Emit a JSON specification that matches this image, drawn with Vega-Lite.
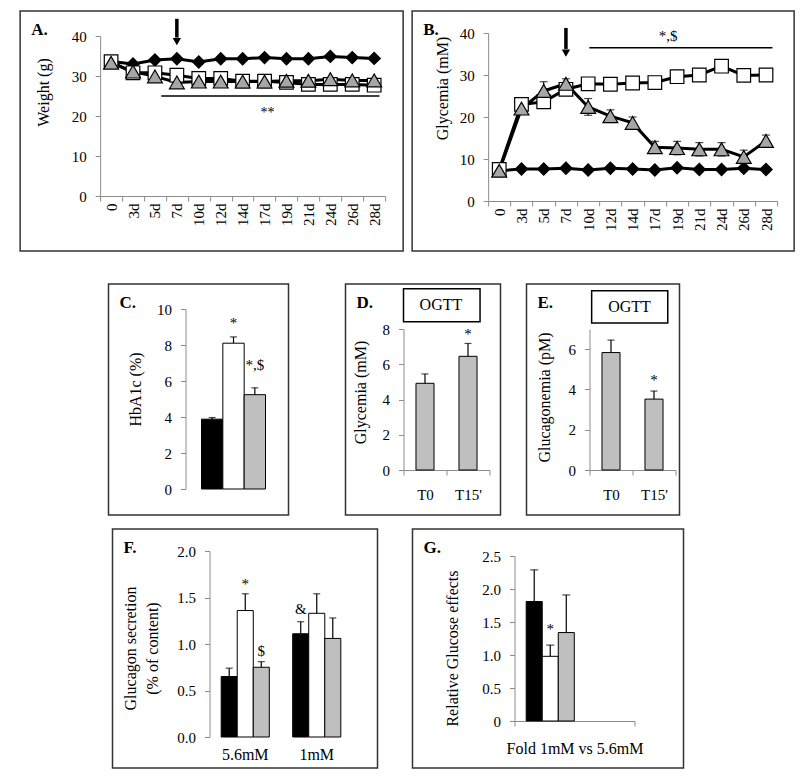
{
  "$schema": "https://vega.github.io/schema/vega-lite/v6.json",
  "background": "white",
  "padding": {"left": 12, "top": 10, "right": 12, "bottom": 11},
  "config": {
    "view": {"stroke": "#333333", "strokeWidth": 1.5},
    "font": "Liberation Serif",
    "axis": {"labelFont": "Liberation Serif", "titleFont": "Liberation Serif", "labelFontSize": 15, "titleFontSize": 16, "titleFontWeight": "normal", "labelColor": "black", "titleColor": "black", "domainColor": "#8c8c8c", "tickColor": "#8c8c8c", "grid": false, "tickSize": 5, "labelPadding": 9, "labelOverlap": false},
    "title": {"anchor": "start", "frame": "group", "offset": -28, "dx": 11, "baseline": "alphabetic", "font": "Liberation Serif", "fontSize": 17, "fontWeight": "bold", "color": "black"}
  },
  "datasets": {
    "weight": [
      {"day": "0", "series": "Control", "value": 33.6}, {"day": "3d", "series": "Control", "value": 33.0}, {"day": "5d", "series": "Control", "value": 34.0}, {"day": "7d", "series": "Control", "value": 34.3}, {"day": "10d", "series": "Control", "value": 33.5}, {"day": "12d", "series": "Control", "value": 34.3}, {"day": "14d", "series": "Control", "value": 34.3}, {"day": "17d", "series": "Control", "value": 34.6}, {"day": "19d", "series": "Control", "value": 34.3}, {"day": "21d", "series": "Control", "value": 34.3}, {"day": "24d", "series": "Control", "value": 34.9}, {"day": "26d", "series": "Control", "value": 34.6}, {"day": "28d", "series": "Control", "value": 34.4},
      {"day": "0", "series": "Diabetic", "value": 33.6}, {"day": "3d", "series": "Diabetic", "value": 30.8}, {"day": "5d", "series": "Diabetic", "value": 30.8}, {"day": "7d", "series": "Diabetic", "value": 30.2}, {"day": "10d", "series": "Diabetic", "value": 29.4}, {"day": "12d", "series": "Diabetic", "value": 29.4}, {"day": "14d", "series": "Diabetic", "value": 28.7}, {"day": "17d", "series": "Diabetic", "value": 28.7}, {"day": "19d", "series": "Diabetic", "value": 28.4}, {"day": "21d", "series": "Diabetic", "value": 27.9}, {"day": "24d", "series": "Diabetic", "value": 27.9}, {"day": "26d", "series": "Diabetic", "value": 27.9}, {"day": "28d", "series": "Diabetic", "value": 27.7},
      {"day": "0", "series": "Treated", "value": 33.3}, {"day": "3d", "series": "Treated", "value": 31.1}, {"day": "5d", "series": "Treated", "value": 29.9}, {"day": "7d", "series": "Treated", "value": 28.4}, {"day": "10d", "series": "Treated", "value": 28.6}, {"day": "12d", "series": "Treated", "value": 28.6}, {"day": "14d", "series": "Treated", "value": 28.6}, {"day": "17d", "series": "Treated", "value": 28.6}, {"day": "19d", "series": "Treated", "value": 28.8}, {"day": "21d", "series": "Treated", "value": 28.8}, {"day": "24d", "series": "Treated", "value": 29.2}, {"day": "26d", "series": "Treated", "value": 28.9}, {"day": "28d", "series": "Treated", "value": 28.9}
    ],
    "glyc": [
      {"day": "0", "series": "Control", "value": 7.2}, {"day": "3d", "series": "Control", "value": 7.6}, {"day": "5d", "series": "Control", "value": 7.6}, {"day": "7d", "series": "Control", "value": 7.8}, {"day": "10d", "series": "Control", "value": 7.4}, {"day": "12d", "series": "Control", "value": 7.8}, {"day": "14d", "series": "Control", "value": 7.6}, {"day": "17d", "series": "Control", "value": 7.4}, {"day": "19d", "series": "Control", "value": 7.9}, {"day": "21d", "series": "Control", "value": 7.5}, {"day": "24d", "series": "Control", "value": 7.5}, {"day": "26d", "series": "Control", "value": 7.8}, {"day": "28d", "series": "Control", "value": 7.5},
      {"day": "0", "series": "Diabetic", "value": 7.5}, {"day": "3d", "series": "Diabetic", "value": 23.0}, {"day": "5d", "series": "Diabetic", "value": 23.6}, {"day": "7d", "series": "Diabetic", "value": 26.6}, {"day": "10d", "series": "Diabetic", "value": 27.9}, {"day": "12d", "series": "Diabetic", "value": 27.8}, {"day": "14d", "series": "Diabetic", "value": 28.1}, {"day": "17d", "series": "Diabetic", "value": 28.2}, {"day": "19d", "series": "Diabetic", "value": 29.6}, {"day": "21d", "series": "Diabetic", "value": 30.0}, {"day": "24d", "series": "Diabetic", "value": 32.1}, {"day": "26d", "series": "Diabetic", "value": 29.9}, {"day": "28d", "series": "Diabetic", "value": 30.0},
      {"day": "0", "series": "Treated", "value": 7.2, "lo": 6.9, "hi": 7.5}, {"day": "3d", "series": "Treated", "value": 22.0, "lo": 20.7, "hi": 23.3}, {"day": "5d", "series": "Treated", "value": 26.2, "lo": 24.0, "hi": 28.4}, {"day": "7d", "series": "Treated", "value": 27.9, "lo": 26.7, "hi": 29.1}, {"day": "10d", "series": "Treated", "value": 22.4, "lo": 20.4, "hi": 24.4}, {"day": "12d", "series": "Treated", "value": 20.2, "lo": 18.7, "hi": 21.7}, {"day": "14d", "series": "Treated", "value": 18.6, "lo": 17.2, "hi": 20.0}, {"day": "17d", "series": "Treated", "value": 12.8, "lo": 11.4, "hi": 14.2}, {"day": "19d", "series": "Treated", "value": 12.6, "lo": 11.0, "hi": 14.2}, {"day": "21d", "series": "Treated", "value": 12.3, "lo": 10.7, "hi": 13.9}, {"day": "24d", "series": "Treated", "value": 12.3, "lo": 10.7, "hi": 13.9}, {"day": "26d", "series": "Treated", "value": 10.5, "lo": 8.9, "hi": 12.1}, {"day": "28d", "series": "Treated", "value": 14.3, "lo": 12.9, "hi": 15.7}
    ],
    "hba1c": [
      {"group": "Control", "value": 3.88, "hi": 3.97}, {"group": "Diabetic", "value": 8.1, "hi": 8.45}, {"group": "Treated", "value": 5.24, "hi": 5.62}
    ],
    "ogttGly": [
      {"time": "T0", "value": 4.92, "hi": 5.45}, {"time": "T15'", "value": 6.45, "hi": 7.18}
    ],
    "ogttGlu": [
      {"time": "T0", "value": 5.83, "hi": 6.45}, {"time": "T15'", "value": 3.52, "hi": 3.92}
    ],
    "secretion": [
      {"cond": "5.6mM", "group": "Control", "value": 0.65, "hi": 0.74}, {"cond": "5.6mM", "group": "Diabetic", "value": 1.36, "hi": 1.54}, {"cond": "5.6mM", "group": "Treated", "value": 0.75, "hi": 0.81},
      {"cond": "1mM", "group": "Control", "value": 1.11, "hi": 1.24}, {"cond": "1mM", "group": "Diabetic", "value": 1.33, "hi": 1.54}, {"cond": "1mM", "group": "Treated", "value": 1.06, "hi": 1.28}
    ],
    "fold": [
      {"cond": "Fold 1mM vs 5.6mM", "group": "Control", "value": 1.81, "hi": 2.29}, {"cond": "Fold 1mM vs 5.6mM", "group": "Diabetic", "value": 0.98, "hi": 1.15}, {"cond": "Fold 1mM vs 5.6mM", "group": "Treated", "value": 1.34, "hi": 1.91}
    ]
  },
  "vconcat": [
    {
      "hconcat": [
        {
          "width": 383, "height": 240,
          "title": {"text": "A."},
          "layer": [
            {"data": {"name": "weight"}, "mark": {"type": "line", "color": "black", "strokeWidth": 3},
             "encoding": {
               "x": {"field": "day", "type": "ordinal", "bandPosition": 0.5, "sort": ["0","3d","5d","7d","10d","12d","14d","17d","19d","21d","24d","26d","28d"],
                     "scale": {"type": "band", "domain": ["0","3d","5d","7d","10d","12d","14d","17d","19d","21d","24d","26d","28d"], "range": [80, 365], "paddingInner": 0, "paddingOuter": 0},
                     "axis": {"orient": "bottom", "offset": -55, "tickBand": "extent", "labelAngle": 270, "labelPadding": 2, "labelOverlap": false, "title": null}},
               "y": {"field": "value", "type": "quantitative", "scale": {"domain": [0, 40], "range": [185, 25], "nice": false, "zero": false},
                     "axis": {"offset": -80, "values": [0,5,10,15,20,25,30,35,40], "labelOverlap": false, "title": "Weight (g)", "titleX": -49, "titleY": 81}},
               "detail": {"field": "series", "type": "nominal"}}},
            {"data": {"name": "weight"}, "mark": {"type": "point", "filled": true, "stroke": "black", "strokeWidth": 1.2, "opacity": 1},
             "encoding": {
               "x": {"field": "day", "type": "ordinal", "bandPosition": 0.5},
               "y": {"field": "value", "type": "quantitative"},
               "shape": {"field": "series", "type": "nominal", "scale": {"domain": ["Control","Diabetic","Treated"], "range": ["diamond","square","triangle-up"]}, "legend": null},
               "fill": {"field": "series", "type": "nominal", "scale": {"domain": ["Control","Diabetic","Treated"], "range": ["black","white","#a6a6a6"]}, "legend": null},
               "size": {"field": "series", "type": "nominal", "scale": {"domain": ["Control","Diabetic","Treated"], "range": [150, 220, 220]}, "legend": null}}},
            {"data": {"values": [{"day": "7d", "top": 44.3, "bottom": 39.6}]}, "mark": {"type": "rule", "color": "black", "strokeWidth": 3.5},
             "encoding": {"x": {"field": "day", "type": "ordinal", "bandPosition": 0.5}, "y": {"field": "top", "type": "quantitative"}, "y2": {"field": "bottom"}}},
            {"data": {"values": [{"day": "7d", "tip": 38.6}]}, "mark": {"type": "point", "shape": "triangle-down", "filled": true, "color": "black", "size": 70, "opacity": 1},
             "encoding": {"x": {"field": "day", "type": "ordinal", "bandPosition": 0.5}, "y": {"field": "tip", "type": "quantitative"}}},
            {"data": {"values": [{"from": "5d", "to": "28d", "level": 25}]}, "mark": {"type": "rule", "color": "black", "strokeWidth": 1.5},
             "encoding": {"x": {"field": "from", "type": "ordinal", "bandPosition": 0.79}, "x2": {"field": "to", "bandPosition": 0.74}, "y": {"field": "level", "type": "quantitative"}}},
            {"data": {"values": [{"day": "17d", "level": 20.8, "label": "**"}]}, "mark": {"type": "text", "fontSize": 14, "baseline": "middle", "color": "black", "font": "Liberation Serif"},
             "encoding": {"x": {"field": "day", "type": "ordinal", "bandPosition": 0.63}, "y": {"field": "level", "type": "quantitative"}, "text": {"field": "label"}}}
          ]
        },
        {
          "width": 382, "height": 240,
          "title": {"text": "B."},
          "layer": [
            {"data": {"name": "glyc"}, "mark": {"type": "line", "color": "black", "strokeWidth": 3},
             "encoding": {
               "x": {"field": "day", "type": "ordinal", "bandPosition": 0.5, "sort": ["0","3d","5d","7d","10d","12d","14d","17d","19d","21d","24d","26d","28d"],
                     "scale": {"type": "band", "domain": ["0","3d","5d","7d","10d","12d","14d","17d","19d","21d","24d","26d","28d"], "range": [76, 365], "paddingInner": 0, "paddingOuter": 0},
                     "axis": {"orient": "bottom", "offset": -50, "tickBand": "extent", "labelAngle": 270, "labelPadding": 2, "labelOverlap": false, "title": null}},
               "y": {"field": "value", "type": "quantitative", "scale": {"domain": [0, 40], "range": [190, 22], "nice": false, "zero": false},
                     "axis": {"offset": -76, "values": [0,5,10,15,20,25,30,35,40], "labelOverlap": false, "title": "Glycemia (mM)", "titleX": -38, "titleY": 77}},
               "detail": {"field": "series", "type": "nominal"}}},
            {"data": {"name": "glyc"}, "transform": [{"filter": {"field": "series", "equal": "Treated"}}], "mark": {"type": "rule", "color": "black", "strokeWidth": 1.2},
             "encoding": {"x": {"field": "day", "type": "ordinal", "bandPosition": 0.5}, "y": {"field": "lo", "type": "quantitative"}, "y2": {"field": "hi"}}},
            {"data": {"name": "glyc"}, "transform": [{"filter": {"field": "series", "equal": "Treated"}}], "mark": {"type": "tick", "color": "black", "size": 8, "thickness": 1.2},
             "encoding": {"x": {"field": "day", "type": "ordinal", "bandPosition": 0.5}, "y": {"field": "hi", "type": "quantitative"}}},
            {"data": {"name": "glyc"}, "transform": [{"filter": {"field": "series", "equal": "Treated"}}], "mark": {"type": "tick", "color": "black", "size": 8, "thickness": 1.2},
             "encoding": {"x": {"field": "day", "type": "ordinal", "bandPosition": 0.5}, "y": {"field": "lo", "type": "quantitative"}}},
            {"data": {"name": "glyc"}, "mark": {"type": "point", "filled": true, "stroke": "black", "strokeWidth": 1.2, "opacity": 1},
             "encoding": {
               "x": {"field": "day", "type": "ordinal", "bandPosition": 0.5},
               "y": {"field": "value", "type": "quantitative"},
               "shape": {"field": "series", "type": "nominal", "scale": {"domain": ["Control","Diabetic","Treated"], "range": ["diamond","square","triangle-up"]}, "legend": null},
               "fill": {"field": "series", "type": "nominal", "scale": {"domain": ["Control","Diabetic","Treated"], "range": ["black","white","#a6a6a6"]}, "legend": null},
               "size": {"field": "series", "type": "nominal", "scale": {"domain": ["Control","Diabetic","Treated"], "range": [150, 220, 220]}, "legend": null}}},
            {"data": {"values": [{"day": "7d", "top": 41.2, "bottom": 36.2}]}, "mark": {"type": "rule", "color": "black", "strokeWidth": 3.5},
             "encoding": {"x": {"field": "day", "type": "ordinal", "bandPosition": 0.5}, "y": {"field": "top", "type": "quantitative"}, "y2": {"field": "bottom"}}},
            {"data": {"values": [{"day": "7d", "tip": 35.2}]}, "mark": {"type": "point", "shape": "triangle-down", "filled": true, "color": "black", "size": 70, "opacity": 1},
             "encoding": {"x": {"field": "day", "type": "ordinal", "bandPosition": 0.5}, "y": {"field": "tip", "type": "quantitative"}}},
            {"data": {"values": [{"from": "10d", "to": "28d", "level": 36.5}]}, "mark": {"type": "rule", "color": "black", "strokeWidth": 1.5},
             "encoding": {"x": {"field": "from", "type": "ordinal", "bandPosition": 0.55}, "x2": {"field": "to", "bandPosition": 0.79}, "y": {"field": "level", "type": "quantitative"}}},
            {"data": {"values": [{"day": "19d", "level": 39.3, "label": "*,$"}]}, "mark": {"type": "text", "fontSize": 15, "baseline": "middle", "color": "black", "font": "Liberation Serif"},
             "encoding": {"x": {"field": "day", "type": "ordinal", "bandPosition": 0.1}, "y": {"field": "level", "type": "quantitative"}, "text": {"field": "label"}}}
          ]
        }
      ],
      "spacing": 0
    },
    {
      "vconcat": [
        {
          "hconcat": [
            {
              "hconcat": [
                {
                  "width": 180, "height": 231,
                  "title": {"text": "C."},
                  "data": {"name": "hba1c"},
                  "layer": [
                    {"mark": {"type": "bar", "stroke": "black", "strokeWidth": 1},
                     "encoding": {
                       "x": {"field": "group", "type": "nominal", "scale": {"type": "band", "domain": ["Control","Diabetic","Treated"], "range": [93, 157], "paddingInner": 0, "paddingOuter": 0}, "axis": null},
                       "y": {"field": "value", "type": "quantitative", "scale": {"domain": [0, 10], "range": [205, 25], "nice": false, "zero": false},
                             "axis": {"offset": -77, "values": [0,2,4,6,8,10], "labelOverlap": false, "title": "HbA1c (%)", "titleX": -42, "titleY": 105}},
                       "color": {"field": "group", "type": "nominal", "scale": {"domain": ["Control","Diabetic","Treated"], "range": ["black","white","#bfbfbf"]}, "legend": null}}},
                    {"mark": {"type": "rule", "color": "black", "strokeWidth": 1.2},
                     "encoding": {"x": {"field": "group", "type": "nominal", "bandPosition": 0.5, "axis": null}, "y": {"field": "value", "type": "quantitative"}, "y2": {"field": "hi"}}},
                    {"mark": {"type": "tick", "color": "black", "size": 7, "thickness": 1.2},
                     "encoding": {"x": {"field": "group", "type": "nominal", "bandPosition": 0.5, "axis": null}, "y": {"field": "hi", "type": "quantitative"}}},
                    {"data": {"values": [{"group": "Diabetic", "level": 9.2, "label": "*"}, {"group": "Treated", "level": 6.9, "label": "*,$"}]}, "mark": {"type": "text", "fontSize": 15, "baseline": "middle", "color": "black", "font": "Liberation Serif"},
                     "encoding": {"x": {"field": "group", "type": "nominal", "bandPosition": 0.5, "axis": null}, "y": {"field": "level", "type": "quantitative"}, "text": {"field": "label"}}}
                  ]
                },
                {
                  "hconcat": [
                    {
                      "width": 155, "height": 231,
                      "title": {"text": "D."},
                      "data": {"name": "ogttGly"},
                      "layer": [
                        {"mark": {"type": "bar", "stroke": "black", "strokeWidth": 1, "color": "#bfbfbf", "width": {"band": 0.42}},
                         "encoding": {
                           "x": {"field": "time", "type": "nominal", "scale": {"type": "band", "domain": ["T0","T15'"], "range": [58, 144], "paddingInner": 0, "paddingOuter": 0},
                                 "axis": {"orient": "bottom", "offset": -45, "tickBand": "extent", "labelPadding": 12, "labelAngle": 0, "title": null}},
                           "y": {"field": "value", "type": "quantitative", "scale": {"domain": [0, 8], "range": [186, 45], "nice": false, "zero": false},
                                 "axis": {"offset": -58, "values": [0,2,4,6,8], "labelOverlap": false, "title": "Glycemia (mM)", "titleX": -35, "titleY": 108}}}},
                        {"mark": {"type": "rule", "color": "black", "strokeWidth": 1.2},
                         "encoding": {"x": {"field": "time", "type": "nominal", "bandPosition": 0.5}, "y": {"field": "value", "type": "quantitative"}, "y2": {"field": "hi"}}},
                        {"mark": {"type": "tick", "color": "black", "size": 7, "thickness": 1.2},
                         "encoding": {"x": {"field": "time", "type": "nominal", "bandPosition": 0.5}, "y": {"field": "hi", "type": "quantitative"}}},
                        {"data": {"values": [{"time": "T15'", "level": 7.7, "label": "*"}]}, "mark": {"type": "text", "fontSize": 15, "baseline": "middle", "color": "black", "font": "Liberation Serif"},
                         "encoding": {"x": {"field": "time", "type": "nominal", "bandPosition": 0.5}, "y": {"field": "level", "type": "quantitative"}, "text": {"field": "label"}}},
                        {"data": {"values": [{"from": "T0", "to": "T15'", "low": 8.41, "high": 10.28}]}, "mark": {"type": "rect", "fill": "white", "stroke": "black", "strokeWidth": 1.5},
                         "encoding": {"x": {"field": "from", "type": "nominal", "bandPosition": 0}, "x2": {"field": "to", "bandPosition": 0.78}, "y": {"field": "low", "type": "quantitative"}, "y2": {"field": "high"}}},
                        {"data": {"values": [{"time": "T0", "level": 9.35, "label": "OGTT"}]}, "mark": {"type": "text", "fontSize": 16, "baseline": "middle", "color": "black", "font": "Liberation Serif"},
                         "encoding": {"x": {"field": "time", "type": "nominal", "bandPosition": 0.87}, "y": {"field": "level", "type": "quantitative"}, "text": {"field": "label"}}}
                      ]
                    },
                    {
                      "width": 153, "height": 231,
                      "title": {"text": "E."},
                      "data": {"name": "ogttGlu"},
                      "layer": [
                        {"mark": {"type": "bar", "stroke": "black", "strokeWidth": 1, "color": "#bfbfbf", "width": {"band": 0.42}},
                         "encoding": {
                           "x": {"field": "time", "type": "nominal", "scale": {"type": "band", "domain": ["T0","T15'"], "range": [63, 149], "paddingInner": 0, "paddingOuter": 0},
                                 "axis": {"orient": "bottom", "offset": -45, "tickBand": "extent", "labelPadding": 12, "labelAngle": 0, "title": null}},
                           "y": {"field": "value", "type": "quantitative", "scale": {"domain": [0, 7], "range": [186, 45], "nice": false, "zero": false},
                                 "axis": {"offset": -63, "values": [0,1,2,3,4,5,6,7], "labelOverlap": false, "title": "Glucagonemia (pM)", "titleX": -37, "titleY": 113}}}},
                        {"mark": {"type": "rule", "color": "black", "strokeWidth": 1.2},
                         "encoding": {"x": {"field": "time", "type": "nominal", "bandPosition": 0.5}, "y": {"field": "value", "type": "quantitative"}, "y2": {"field": "hi"}}},
                        {"mark": {"type": "tick", "color": "black", "size": 7, "thickness": 1.2},
                         "encoding": {"x": {"field": "time", "type": "nominal", "bandPosition": 0.5}, "y": {"field": "hi", "type": "quantitative"}}},
                        {"data": {"values": [{"time": "T15'", "level": 4.45, "label": "*"}]}, "mark": {"type": "text", "fontSize": 15, "baseline": "middle", "color": "black", "font": "Liberation Serif"},
                         "encoding": {"x": {"field": "time", "type": "nominal", "bandPosition": 0.5}, "y": {"field": "level", "type": "quantitative"}, "text": {"field": "label"}}},
                        {"data": {"values": [{"from": "T0", "to": "T15'", "low": 7.3, "high": 8.9}]}, "mark": {"type": "rect", "fill": "white", "stroke": "black", "strokeWidth": 1.5},
                         "encoding": {"x": {"field": "from", "type": "nominal", "bandPosition": 0.05}, "x2": {"field": "to", "bandPosition": 0.82}, "y": {"field": "low", "type": "quantitative"}, "y2": {"field": "high"}}},
                        {"data": {"values": [{"time": "T0", "level": 8.1, "label": "OGTT"}]}, "mark": {"type": "text", "fontSize": 16, "baseline": "middle", "color": "black", "font": "Liberation Serif"},
                         "encoding": {"x": {"field": "time", "type": "nominal", "bandPosition": 0.93}, "y": {"field": "level", "type": "quantitative"}, "text": {"field": "label"}}}
                      ]
                    }
                  ],
                  "spacing": 24
                }
              ],
              "spacing": 55
            },
            {"width": 14, "height": 2, "view": {"stroke": null}, "data": {"values": [{"k": 1}]}, "mark": {"type": "point", "opacity": 0}, "encoding": {}}
          ],
          "spacing": 12
        },
        {
          "hconcat": [
            {
              "hconcat": [
                {
                  "width": 265, "height": 239,
                  "title": {"text": "F."},
                  "data": {"name": "secretion"},
                  "layer": [
                    {"mark": {"type": "bar", "stroke": "black", "strokeWidth": 1},
                     "encoding": {
                       "x": {"field": "cond", "type": "nominal", "scale": {"type": "band", "domain": ["5.6mM","1mM"], "range": [97, 240], "paddingInner": 0, "paddingOuter": 0},
                             "axis": {"orient": "bottom", "offset": -31, "domain": false, "ticks": false, "labelPadding": 9, "labelFontSize": 16, "labelAngle": 0, "title": null}},
                       "xOffset": {"field": "group", "type": "nominal", "scale": {"domain": ["Control","Diabetic","Treated"], "paddingInner": 0, "paddingOuter": 0.73}},
                       "y": {"field": "value", "type": "quantitative", "scale": {"domain": [0, 2], "range": [208, 22], "nice": false, "zero": false},
                             "axis": {"offset": -97, "values": [0,0.5,1,1.5,2], "format": ".1f", "labelOverlap": false, "title": ["Glucagon secretion", "(% of content)"], "titleX": -71, "titleY": 119, "titleLineHeight": 22}},
                       "color": {"field": "group", "type": "nominal", "scale": {"domain": ["Control","Diabetic","Treated"], "range": ["black","white","#bfbfbf"]}, "legend": null}}},
                    {"mark": {"type": "rule", "color": "black", "strokeWidth": 1.2},
                     "encoding": {"x": {"field": "cond", "type": "nominal"}, "xOffset": {"field": "group", "type": "nominal"}, "y": {"field": "value", "type": "quantitative"}, "y2": {"field": "hi"}}},
                    {"mark": {"type": "tick", "color": "black", "size": 7, "thickness": 1.2},
                     "encoding": {"x": {"field": "cond", "type": "nominal"}, "xOffset": {"field": "group", "type": "nominal"}, "y": {"field": "hi", "type": "quantitative"}}},
                    {"data": {"values": [{"cond": "5.6mM", "group": "Diabetic", "level": 1.65, "label": "*"}, {"cond": "5.6mM", "group": "Treated", "level": 0.93, "label": "$"}, {"cond": "1mM", "group": "Control", "level": 1.38, "label": "&"}]},
                     "mark": {"type": "text", "fontSize": 15, "baseline": "middle", "color": "black", "font": "Liberation Serif"},
                     "encoding": {"x": {"field": "cond", "type": "nominal"}, "xOffset": {"field": "group", "type": "nominal"}, "y": {"field": "level", "type": "quantitative"}, "text": {"field": "label"}}}
                  ]
                },
                {
                  "width": 271, "height": 239,
                  "title": {"text": "G."},
                  "data": {"name": "fold"},
                  "layer": [
                    {"mark": {"type": "bar", "stroke": "black", "strokeWidth": 1},
                     "encoding": {
                       "x": {"field": "cond", "type": "nominal", "scale": {"type": "band", "domain": ["Fold 1mM vs 5.6mM"], "range": [102, 222], "paddingInner": 0, "paddingOuter": 0},
                             "axis": {"orient": "bottom", "offset": -47, "tickBand": "extent", "labelPadding": 14, "labelFontSize": 16, "labelAngle": 0, "title": null}},
                       "xOffset": {"field": "group", "type": "nominal", "scale": {"domain": ["Control","Diabetic","Treated"], "paddingInner": 0, "paddingOuter": 0.78}},
                       "y": {"field": "value", "type": "quantitative", "scale": {"domain": [0, 2.5], "range": [192, 27], "nice": false, "zero": false},
                             "axis": {"offset": -102, "values": [0,0.5,1,1.5,2,2.5], "labelOverlap": false, "labelExpr": "datum.value == 0 ? '0' : datum.label", "title": "Relative Glucose effects", "titleX": -54, "titleY": 119}},
                       "color": {"field": "group", "type": "nominal", "scale": {"domain": ["Control","Diabetic","Treated"], "range": ["black","white","#bfbfbf"]}, "legend": null}}},
                    {"mark": {"type": "rule", "color": "black", "strokeWidth": 1.2},
                     "encoding": {"x": {"field": "cond", "type": "nominal"}, "xOffset": {"field": "group", "type": "nominal"}, "y": {"field": "value", "type": "quantitative"}, "y2": {"field": "hi"}}},
                    {"mark": {"type": "tick", "color": "black", "size": 8, "thickness": 1.2},
                     "encoding": {"x": {"field": "cond", "type": "nominal"}, "xOffset": {"field": "group", "type": "nominal"}, "y": {"field": "hi", "type": "quantitative"}}},
                    {"data": {"values": [{"cond": "Fold 1mM vs 5.6mM", "group": "Diabetic", "level": 1.4, "label": "*"}]},
                     "mark": {"type": "text", "fontSize": 15, "baseline": "middle", "color": "black", "font": "Liberation Serif"},
                     "encoding": {"x": {"field": "cond", "type": "nominal"}, "xOffset": {"field": "group", "type": "nominal"}, "y": {"field": "level", "type": "quantitative"}, "text": {"field": "label"}}}
                  ]
                }
              ],
              "spacing": 33
            },
            {"width": 12, "height": 2, "view": {"stroke": null}, "data": {"values": [{"k": 1}]}, "mark": {"type": "point", "opacity": 0}, "encoding": {}}
          ],
          "spacing": 6
        }
      ],
      "spacing": 11,
      "center": true
    }
  ],
  "spacing": 30,
  "center": true
}
